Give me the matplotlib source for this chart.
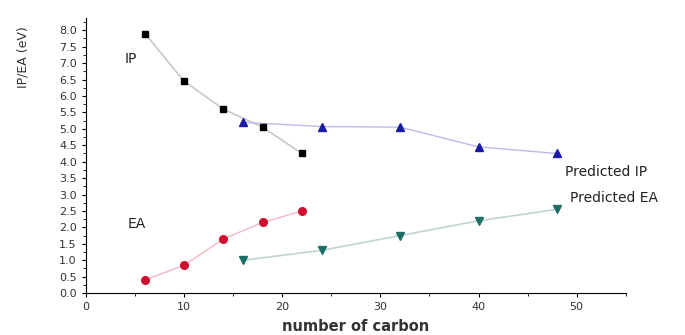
import matplotlib
matplotlib.use("Agg")
import matplotlib.pyplot as plt
from matplotlib.ticker import MultipleLocator

plt.rcParams['font.family'] = ['DejaVu Sans']

# data
ip_x = [6, 10, 14, 18, 22]
ip_y = [7.9, 6.45, 5.6, 5.05, 4.25]
pred_ip_x = [16, 24, 32, 40, 48]
pred_ip_y = [5.2, 5.07, 5.05, 4.45, 4.25]
ea_x = [6, 10, 14, 18, 22]
ea_y = [0.4, 0.85, 1.65, 2.15, 2.5]
pred_ea_x = [16, 24, 32, 40, 48]
pred_ea_y = [1.0, 1.3, 1.75, 2.2, 2.55]

fig = plt.figure(figsize=(6.85, 3.35), dpi=100)
ax = fig.add_axes([0.1255, 0.125, 0.788, 0.82])

# lines first, markers on top
ax.plot(ip_x, ip_y, color='#c8c8c8', lw=1.2, zorder=1)
ax.plot(pred_ip_x, pred_ip_y, color='#b8bce8', lw=1.0, zorder=1)
ax.plot(ea_x, ea_y, color='#f4b8c0', lw=1.0, zorder=1)
ax.plot(pred_ea_x, pred_ea_y, color='#c0d4d0', lw=1.2, zorder=1)

ax.plot(ip_x, ip_y, 's', color='black', ms=5, ls='none', zorder=3)
ax.plot(pred_ip_x, pred_ip_y, '^', color='#1a1aa8', ms=6, ls='none', zorder=3)
ax.plot(ea_x, ea_y, 'o', color='#d01030', ms=5.5, ls='none', zorder=3)
ax.plot(pred_ea_x, pred_ea_y, 'v', color='#1e6e68', ms=6, ls='none', zorder=3)

# annotations
ax.text(3.9, 7.12, 'IP', fontsize=10, va='center', color='#222222')
ax.text(4.2, 2.1, 'EA', fontsize=10, va='center', color='#222222')
ax.text(48.8, 3.68, 'Predicted IP', fontsize=10, va='center', color='#222222')
ax.text(49.3, 2.89, 'Predicted EA', fontsize=10, va='center', color='#222222')

ax.set_xlim(0, 55)
ax.set_ylim(0, 8.36)
ax.xaxis.set_major_locator(MultipleLocator(10))
ax.xaxis.set_minor_locator(MultipleLocator(5))
ax.yaxis.set_major_locator(MultipleLocator(0.5))
ax.yaxis.set_minor_locator(MultipleLocator(0.25))
ax.set_yticklabels([f'{v:.1f}' for v in ax.get_yticks()])
ax.tick_params(labelsize=8, width=0.8, length=3, labelcolor='#333333')
ax.tick_params(which='minor', length=2, width=0.6)

ax.spines['top'].set_visible(False)
ax.spines['right'].set_visible(False)

ax.set_xlabel('number of carbon', fontsize=10.5, fontweight='bold', labelpad=5, color='#333333')
ax.set_ylabel('IP/EA (eV)', fontsize=9, color='#333333')
ax.yaxis.set_label_coords(-0.104, 0.86)

fig.savefig('out.png', dpi=100)
